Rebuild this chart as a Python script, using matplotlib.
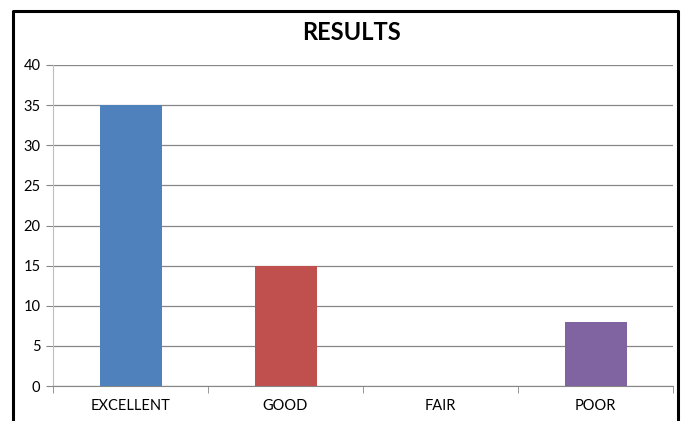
import matplotlib
matplotlib.use('Agg')
import matplotlib.pyplot as plt
from matplotlib.lines import Line2D

categories = ['EXCELLENT', 'GOOD', 'FAIR', 'POOR']
values = [35, 15, 0, 8]
bar_colors = ['#4F81BD', '#C0504D', '#9BBB59', '#8064A2']
y_ticks = [0, 5, 10, 15, 20, 25, 30, 35, 40]

W, H = 685, 421
fig = plt.figure(figsize=(W / 100, H / 100), dpi=100)
ax = fig.add_axes([53 / W, 1 - 386 / H, 620 / W, 321 / H])

x = list(range(len(categories)))
ax.bar(x, values, width=0.4, color=bar_colors, zorder=3)

ax.set_xlim(-0.5, len(categories) - 0.5)
ax.set_ylim(0, 40)
ax.set_yticks(y_ticks)
ax.set_xticks(x)
ax.set_xticklabels(categories)
# category boundary ticks like Excel
ax.set_xticks([i - 0.5 for i in range(len(categories) + 1)], minor=True)
ax.tick_params(axis='x', which='major', length=0, pad=9, labelsize=10.5)
ax.tick_params(axis='x', which='minor', length=5, color='#868686', direction='out')
ax.tick_params(axis='y', length=5, color='#868686', labelsize=10.5, pad=4)

ax.grid(axis='y', color='#868686', linewidth=0.9, zorder=0)
for side in ['top', 'right']:
    ax.spines[side].set_visible(False)
ax.spines['left'].set_color('#BFBFBF')
ax.spines['bottom'].set_color('#868686')

for lab in ax.get_xticklabels() + ax.get_yticklabels():
    lab.set_family('Lato')

fig.text(352 / W, 1 - 32 / H, 'RESULTS', ha='center', va='center',
         fontsize=17, fontweight='bold', family='Lato')

# outer black frame (bottom edge cut off)
fx = [13 / W, 13 / W, 678 / W, 678 / W]
fy = [0, 1 - 11 / H, 1 - 11 / H, 0]
fig.add_artist(Line2D(fx, fy, color='black', linewidth=2.2, transform=fig.transFigure))

fig.savefig('out.png', dpi=100)
